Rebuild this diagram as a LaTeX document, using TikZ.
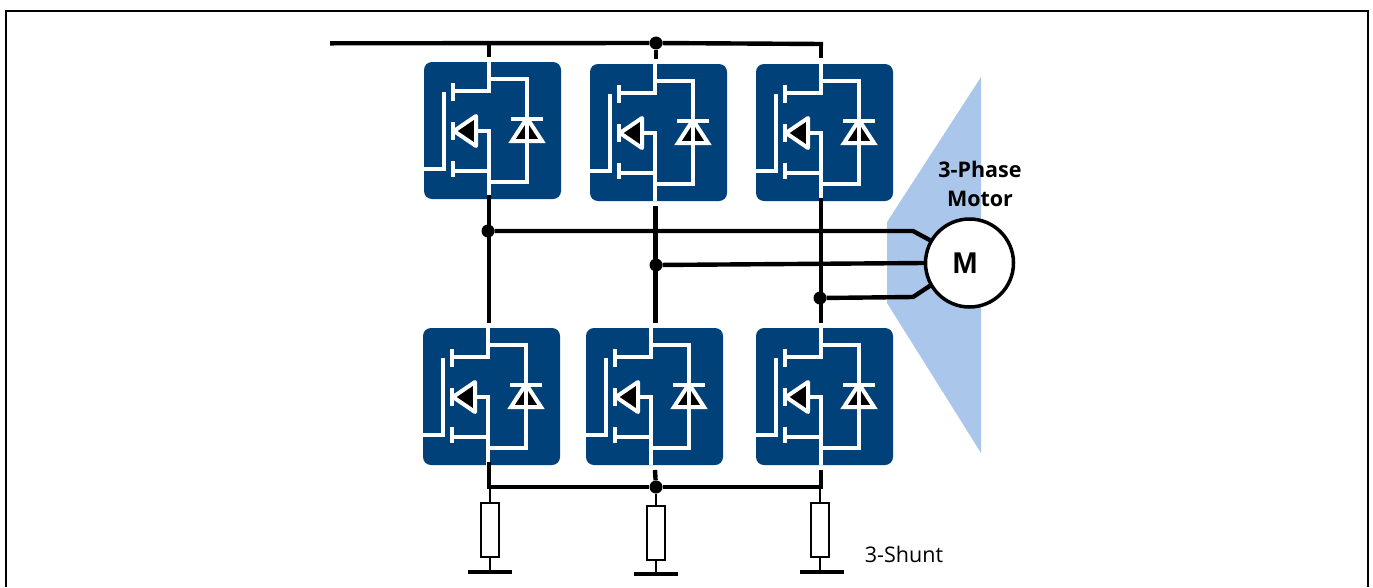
\documentclass[tikz,border=0pt]{standalone}
\usepackage{fontspec}
\setmainfont{Open Sans}
\newfontfamily\motorfont{Liberation Sans}
\usepackage{tikz}
\usetikzlibrary{%
  positioning
 ,calc
}
\definecolor{pkgblue}{RGB}{0,65,122}
\definecolor{fanblue}{RGB}{170,198,235}
\tikzstyle{wire}=[line width=4.4pt,black]
\tikzstyle{thin wire}=[line width=2pt,black]
\tikzstyle{lead}=[line width=4pt,white]
\tikzstyle{pkg}=[draw=none,fill=pkgblue,rounded corners=8pt,minimum size=137pt,inner sep=0pt,outer sep=0pt,anchor=north west]
\tikzstyle{junction}=[circle,fill=black,inner sep=0pt,minimum size=13pt]
\tikzstyle{shunt}=[draw=black,fill=white,line width=2pt,minimum width=18pt,minimum height=54pt,inner sep=0pt]
\tikzstyle{gnd}=[fill=black,minimum width=44pt,minimum height=4.5pt,inner sep=0pt]
\tikzstyle{big}=[font=\fontsize{21.5}{24}\selectfont\bfseries,inner sep=0pt]
\tikzset{
  switch/.pic={
    \node[pkg] (-box) at (0,0) {};
    % gate
    \draw[lead] (0,107) -- (20,107) -- (20,30);
    \draw[lead] (29,21) -- (29,39);
    \draw[lead] (29,60) -- (29,78);
    \draw[lead] (29,99) -- (29,115);
    % drain and source
    \draw[lead] (65,-2) -- (65,29) -- (29,29);
    \draw[lead] (29,109) -- (65,109) -- (65,137);
    \draw[lead] (52,69) -- (65,69) -- (65,109);
    \draw[lead,fill=black,line join=round] (30,69) -- (52,54) -- (52,84) -- cycle;
    % diode
    \draw[lead] (65,17) -- (103,17) -- (103,120) -- (65,120);
    \draw[lead,fill=black] (103,56) -- (118,79) -- (88,79) -- cycle;
    \draw[lead] (87,57) -- (119,57);
    \draw[lead] (103,57) -- (103,79);
  }
}
\begin{document}
\begin{tikzpicture}[x=1pt,y=-1pt]
  \useasboundingbox (0,0) rectangle (1373,587);
  \draw[line width=2pt] (6,587) -- (6,11) -- (1368,11) -- (1368,587);
  % motor fan
  \fill[fanblue] (981,77) -- (887,222) -- (887,303) -- (981,453) -- cycle;
  % switches
  \pic (t1) at (424,62) {switch};
  \pic (t2) at (590,64) {switch};
  \pic (t3) at (756,64) {switch};
  \pic (b1) at (423,328) {switch};
  \pic (b2) at (586,328) {switch};
  \pic (b3) at (756,328) {switch};
  % motor
  \node[circle,draw=black,fill=white,line width=3.5pt,minimum size=88pt,inner sep=0pt] (motor) at (969.5,263) {};
  \node[font=\fontsize{30}{30}\motorfont\bfseries] (m) at (965,263) {M};
  \node[big] (phase) at (980,169) {3-Phase};
  \node[big] (mot) at (980,199) {Motor};
  % dc bus
  \coordinate (busl) at (330,43.3);
  \coordinate (busr) at (823,44);
  \coordinate (in1) at (489,57);
  \coordinate (in3) at (821,58);
  \node[junction] (jtop) at (656,43) {};
  \draw[wire] (busl) -- (jtop) -- (busr);
  \draw[wire] (in1 |- busl) -- (in1);
  \draw[wire] (jtop) -- (656,59);
  \draw[wire] (in3 |- busr) -- (in3);
  % phases
  \node[junction] (j1) at (488,231) {};
  \node[junction] (j2) at (656,265) {};
  \node[junction] (j3) at (820,298) {};
  \coordinate (u1) at (489,195);
  \coordinate (u2) at (655.5,206);
  \coordinate (u3) at (821,198);
  \coordinate (v1) at (489,323);
  \coordinate (v2) at (655.5,323);
  \coordinate (v3) at (821,323);
  \draw[wire] (u1) -- (v1);
  \draw[wire] (u2) -- (v2);
  \draw[wire] (u3) -- (v3);
  \draw[wire] (j1) -- (913,231) -- (motor.150);
  \draw[wire] (j2) -- (motor.west);
  \draw[wire] (j3) -- (913,297) -- (motor.210);
  % bottom bus
  \node[junction] (jbot) at (656,487) {};
  \coordinate (lowl) at (488,487);
  \coordinate (lowr) at (822,487);
  \draw[wire] (lowl) -- (jbot) -- (lowr);
  \draw[wire] (489,462) -- (489,489);
  \draw[wire] (655,470) -- (jbot);
  \draw[wire] (821,470) -- (821,489);
  % shunts
  \node[shunt] (r1) at (490,530) {};
  \node[shunt] (r2) at (656,532.5) {};
  \node[shunt] (r3) at (820,530) {};
  \node[gnd] (g1) at (490,572) {};
  \node[gnd] (g2) at (656,574) {};
  \node[gnd] (g3) at (822,572) {};
  \draw[thin wire] (r1.north |- lowl) -- (r1.north);
  \draw[thin wire] (jbot) -- (r2.north);
  \draw[thin wire] (r3.north |- lowr) -- (r3.north);
  \draw[thin wire] (r1.south) -- (r1 |- g1);
  \draw[thin wire] (r2.south) -- (r2 |- g2);
  \draw[thin wire] (r3.south) -- (r3 |- g3);
  \node[font=\fontsize{21.5}{24}\selectfont,inner sep=0pt] (label) at (904,554) {3-Shunt};
\end{tikzpicture}
\end{document}
